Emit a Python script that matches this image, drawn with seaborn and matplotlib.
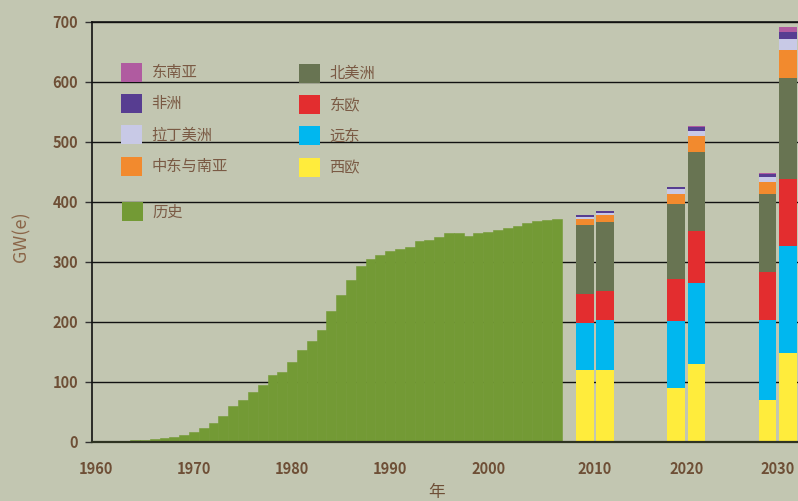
import matplotlib
matplotlib.use("Agg")
import numpy as np
import pandas as pd
import seaborn as sns
import matplotlib.pyplot as plt
from matplotlib.patches import Patch

# 历史装机容量 (GW(e))
years = list(range(1962, 2008))
history = [1, 1, 3, 3, 5, 6.7, 8, 11, 17, 23, 32, 43, 60, 70, 83, 95,
           112, 117, 133, 153, 168, 187, 218, 245, 270, 293, 305, 312,
           318, 322, 325, 335, 337, 342, 348, 348, 343, 348, 350, 353,
           357, 360, 365, 368, 370, 372]

# 预测: 每个年份一低一高两种情景
proj_years = [2010, 2010, 2020, 2020, 2030, 2030]
proj_case = ["低", "高", "低", "高", "低", "高"]
west_europe = [120, 120, 90, 130, 70, 148]
far_east = [78, 83, 112, 135, 133, 179]
east_europe = [49, 49, 70, 87, 80, 111]
north_america = [115, 115, 125, 131, 130, 169]
mideast_south_asia = [10, 11, 16, 27, 20, 46]
latin_america = [3, 4, 9, 8, 9, 19]
africa = [3, 3.5, 3.5, 7, 5, 11]
se_asia = [0, 0, 0, 1, 1.5, 9]

hist_years_ticks = [1960, 1970, 1980, 1990, 2000]

bg = "#c2c6b1"
brown = "#6e4f36"
legend_brown = "#7a5a44"
colors = {
    "西欧": "#ffec3c",
    "远东": "#00b7ef",
    "东欧": "#e32d2f",
    "北美洲": "#687452",
    "中东与南亚": "#f28a2e",
    "拉丁美洲": "#c8c9e6",
    "非洲": "#573d91",
    "东南亚": "#b05ba0",
}
hist_color = "#739a35"

proj = pd.DataFrame({
    "year": proj_years, "case": proj_case,
    "西欧": west_europe, "远东": far_east, "东欧": east_europe,
    "北美洲": north_america, "中东与南亚": mideast_south_asia,
    "拉丁美洲": latin_america, "非洲": africa, "东南亚": se_asia,
})
regions = ["西欧", "远东", "东欧", "北美洲", "中东与南亚", "拉丁美洲", "非洲", "东南亚"]

sns.set_theme(style="white")
plt.rcParams["font.family"] = ["Noto Sans CJK SC", "DejaVu Sans"]

fig = plt.figure(figsize=(7.98, 5.01), dpi=100, facecolor=bg)
ax = fig.add_axes([92 / 798, 1 - 442 / 501, 706 / 798, 420 / 501])
ax.set_facecolor(bg)

# 历史
hist_df = pd.DataFrame({"year": years, "gw": history})
sns.barplot(data=hist_df, x="year", y="gw", native_scale=True, width=1.0,
            color=hist_color, saturation=1, errorbar=None, linewidth=0.4,
            edgecolor=hist_color, ax=ax)

# 预测堆叠柱
pair_center = {2010: 2010.9, 2020: 2020.2, 2030: 2029.55}
xpos = [pair_center[y] + (-1.05 if c == "低" else 1.05)
        for y, c in zip(proj["year"], proj["case"])]
bottom = np.zeros(len(proj))
for r in regions:
    ax.bar(xpos, proj[r], width=1.8, bottom=bottom, color=colors[r],
           linewidth=0)
    bottom += proj[r].values

ax.set_xlim(1959.6, 2031.6)
ax.set_ylim(0, 700)
ax.set_yticks(range(0, 701, 100))
ax.yaxis.grid(True, color="#111111", linewidth=1.0)
ax.xaxis.grid(False)
ax.set_axisbelow(True)

xt = hist_years_ticks + [pair_center[y] for y in (2010, 2020, 2030)]
xl = [str(y) for y in hist_years_ticks] + ["2010", "2020", "2030"]
ax.set_xticks(xt)
ax.set_xticklabels(xl)

ax.spines["right"].set_visible(False)
ax.spines["top"].set_color("#111111")
ax.spines["top"].set_linewidth(1.2)
ax.spines["left"].set_color("#111111")
ax.spines["left"].set_linewidth(1.2)
ax.spines["bottom"].set_color("#2e3322")
ax.spines["bottom"].set_linewidth(1.6)

ax.tick_params(axis="y", left=True, length=5, width=1, color="#333333",
               pad=5, labelsize=10.5, labelcolor=brown)
ax.tick_params(axis="x", bottom=False, length=0, pad=14, labelsize=10.5,
               labelcolor=brown)
for lab in ax.get_xticklabels() + ax.get_yticklabels():
    lab.set_fontweight("bold")

ax.set_xlabel("年", fontsize=12, color=brown, va="center")
ax.xaxis.set_label_coords((437 - 92) / 706, -(492 - 442) / 420)
ax.set_ylabel("GW(e)", fontsize=13, color="#8a6548")
ax.yaxis.set_label_coords(-(92 - 30) / 706, 0.49)

# 图例
def make_legend(names, x, y):
    handles = [Patch(facecolor=colors.get(n, hist_color), edgecolor="none")
               for n in names]
    leg = ax.legend(handles, names, loc="upper left",
                    bbox_to_anchor=(x / 798, 1 - y / 501),
                    bbox_transform=fig.transFigure, frameon=False,
                    fontsize=11, handlelength=1.4, handleheight=1.55,
                    handletextpad=0.6, labelspacing=0.8, borderpad=0,
                    borderaxespad=0, labelcolor=legend_brown,
                    prop={"size": 11, "weight": "medium"})
    return leg

leg1 = make_legend(["东南亚", "非洲", "拉丁美洲", "中东与南亚"], 121, 62.5)
ax.add_artist(leg1)
leg2 = make_legend(["北美洲", "东欧", "远东", "西欧"], 299, 63.5)
ax.add_artist(leg2)
make_legend(["历史"], 122, 202)

fig.savefig("out.png", dpi=100, facecolor=bg)
